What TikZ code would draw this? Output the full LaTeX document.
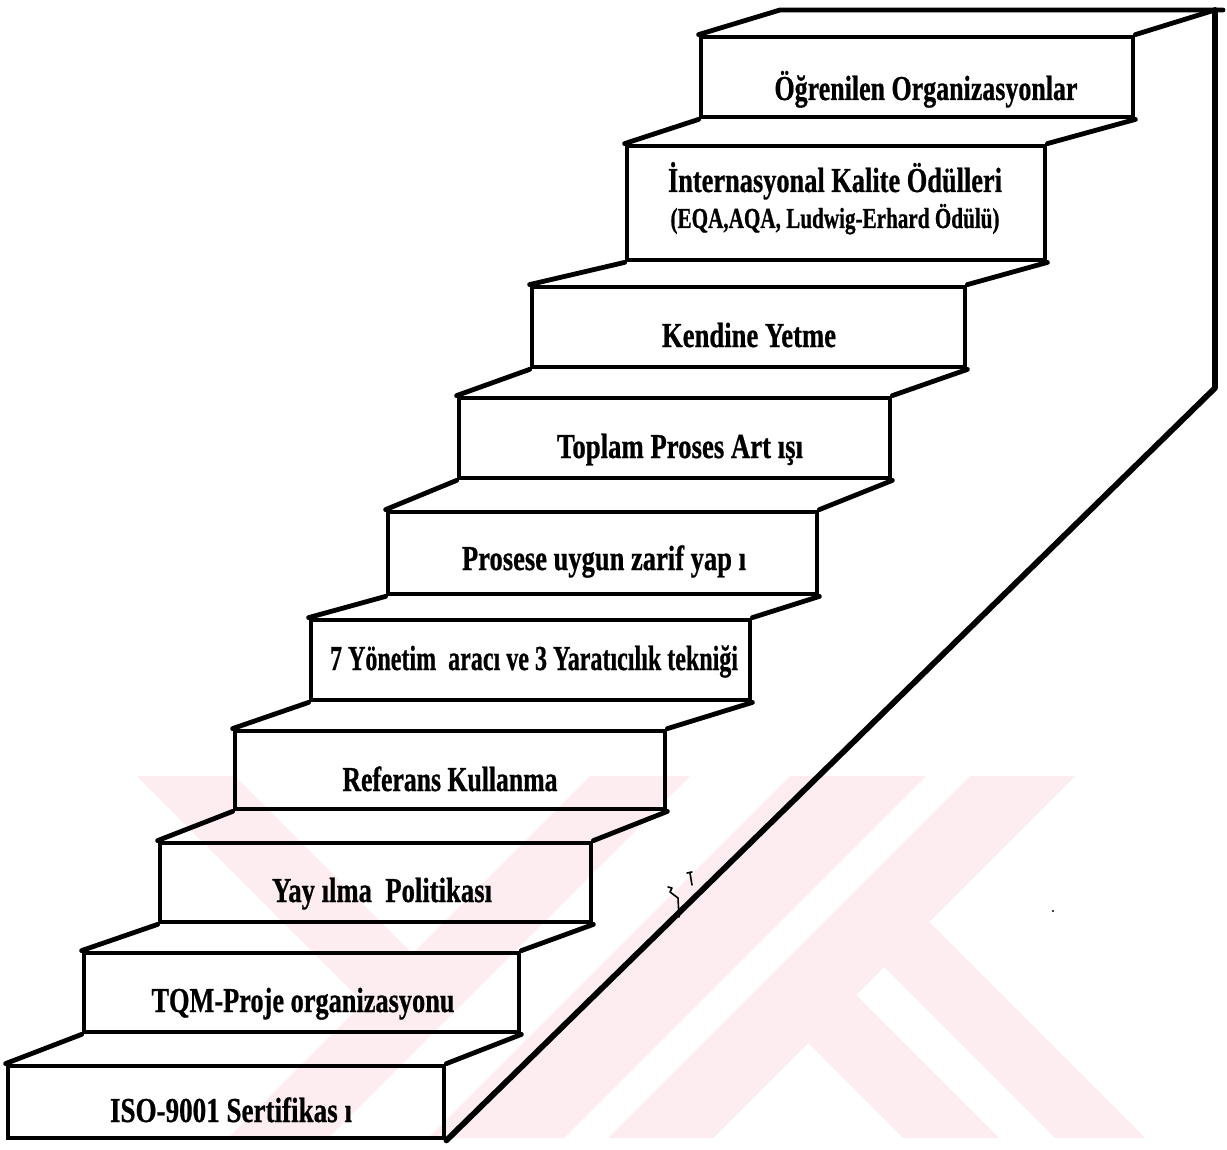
\documentclass[tikz,border=0pt]{standalone}
\usepackage{fontspec}
\setmainfont{Liberation Serif}[BoldFeatures={FakeBold=0.8}]
\usepackage{graphicx}
\definecolor{wmark}{RGB}{253,236,240}
\tikzset{
  riser/.style={draw, line width=2.4pt, inner sep=0pt},
  lbl/.style={inner sep=0pt, anchor=base, font=\bfseries\fontsize{17.5pt}{19pt}\selectfont},
  lblsmall/.style={inner sep=0pt, anchor=base, font=\bfseries\fontsize{14.5pt}{16pt}\selectfont},
  tread/.style={line width=2.4pt, line cap=round, line join=round},
  wall/.style={line width=2.9pt, line cap=round, line join=round},
  speck/.style={line width=0.8pt, line cap=round, line join=round},
}
% \stair{name}{left}{top}{right}{bottom}: one riser (front face) in pixel units
\newcommand{\stair}[5]{%
  \node[riser, minimum width={(#4-#2)*0.5pt}, minimum height={(#5-#3)*0.5pt}]
    (#1) at ({(#2+#4)/2},{(#3+#5)/2}) {};}
% \stairtext{name}{x}{baseline y}{width in pt}{text}
\newcommand{\stairtext}[5]{%
  \node[lbl] (#1) at (#2,#3) {\resizebox{#4pt}{\height}{#5}};}
\begin{document}
\begin{tikzpicture}[x=0.5pt, y=-0.5pt]
\useasboundingbox (0,0) rectangle (1227,1150);

% faint background emblem
\begin{scope}
  \clip (0,776) rectangle (1227,1138);
  \fill[wmark] (970,776) -- (1075,776) -- (713,1138) -- (608,1138) -- cycle;
  \fill[wmark] (856,995) -- (999,1138) -- (903,1138) -- (808,1043) -- cycle;
  \fill[wmark] (929,922) -- (1145,1138) -- (1055,1138) -- (884,967) -- cycle;
  \fill[wmark] (790,776) -- (926,776) -- (564,1138) -- (428,1138) -- cycle;
  \fill[wmark] (590,776) -- (690,776) -- (328,1138) -- (228,1138) -- cycle;
  \fill[wmark] (137,776) -- (235,776) -- (412,953) -- (413,1052) -- cycle;
\end{scope}

% risers, bottom to top
\stair{s1}{8}{1066}{444}{1138}
\stair{s2}{84}{953}{519}{1032}
\stair{s3}{160}{843}{591}{922}
\stair{s4}{235}{731}{665}{809}
\stair{s5}{311}{620}{750}{700}
\stair{s6}{388}{512}{817}{594}
\stair{s7}{459}{398}{890}{478}
\stair{s8}{532}{287}{965}{367}
\stair{s9}{627}{146}{1045}{260}
\stair{s10}{701}{37}{1133}{117}

% treads between consecutive risers
\foreach \a/\b in {s1/s2,s2/s3,s3/s4,s4/s5,s5/s6,s6/s7,s7/s8,s8/s9,s9/s10}{
  \draw[tread] (\a.north west) -- (\b.south west);
  \draw[tread] (\a.north east) -- (\b.south east);
}

% top landing and side wall
\coordinate (tl) at (780,10);
\coordinate (tr) at (1215,10);
\coordinate (tre) at (1223,10);
\coordinate (wb) at (1215,388);
\draw[tread] (s10.north west) -- (tl) -- (tre);
\draw[tread] (s10.north east) -- (tr);
\draw[wall] (tr) -- (wb) -- (s1.south east);

% labels
\stairtext{t1}{231}{1122}{121}{ISO-9001 Sertifikas ı}
\stairtext{t2}{303}{1012}{151.5}{TQM-Proje organizasyonu}
\stairtext{t3}{382}{902}{110}{Yay ılma\ \ Politikası}
\stairtext{t4}{450}{791}{107.5}{Referans Kullanma}
\stairtext{t5}{534}{670}{204}{7 Yönetim\ \ aracı ve 3 Yaratıcılık tekniği}
\stairtext{t6}{604}{570}{142}{Prosese uygun zarif yap ı}
\stairtext{t7}{680}{458}{123}{Toplam Proses Art ışı}
\stairtext{t8}{749}{347}{87}{Kendine Yetme}
\stairtext{t9}{835}{192}{167}{İnternasyonal Kalite Ödülleri}
\node[lblsmall] (t9b) at (835,228) {\resizebox{164.5pt}{\height}{(EQA,AQA, Ludwig-Erhard Ödülü)}};
\stairtext{t10}{926}{100}{151.5}{Öğrenilen Organizasyonlar}

% small pen marks beside the wall
\draw[speck] (668,887) -- (672,888) -- (670,892) -- (678,898) -- (679,917);
\draw[speck] (687,873) -- (692,872) (690,873) -- (692,885);
\fill (1053,911) circle (1.2);
\end{tikzpicture}
\end{document}
